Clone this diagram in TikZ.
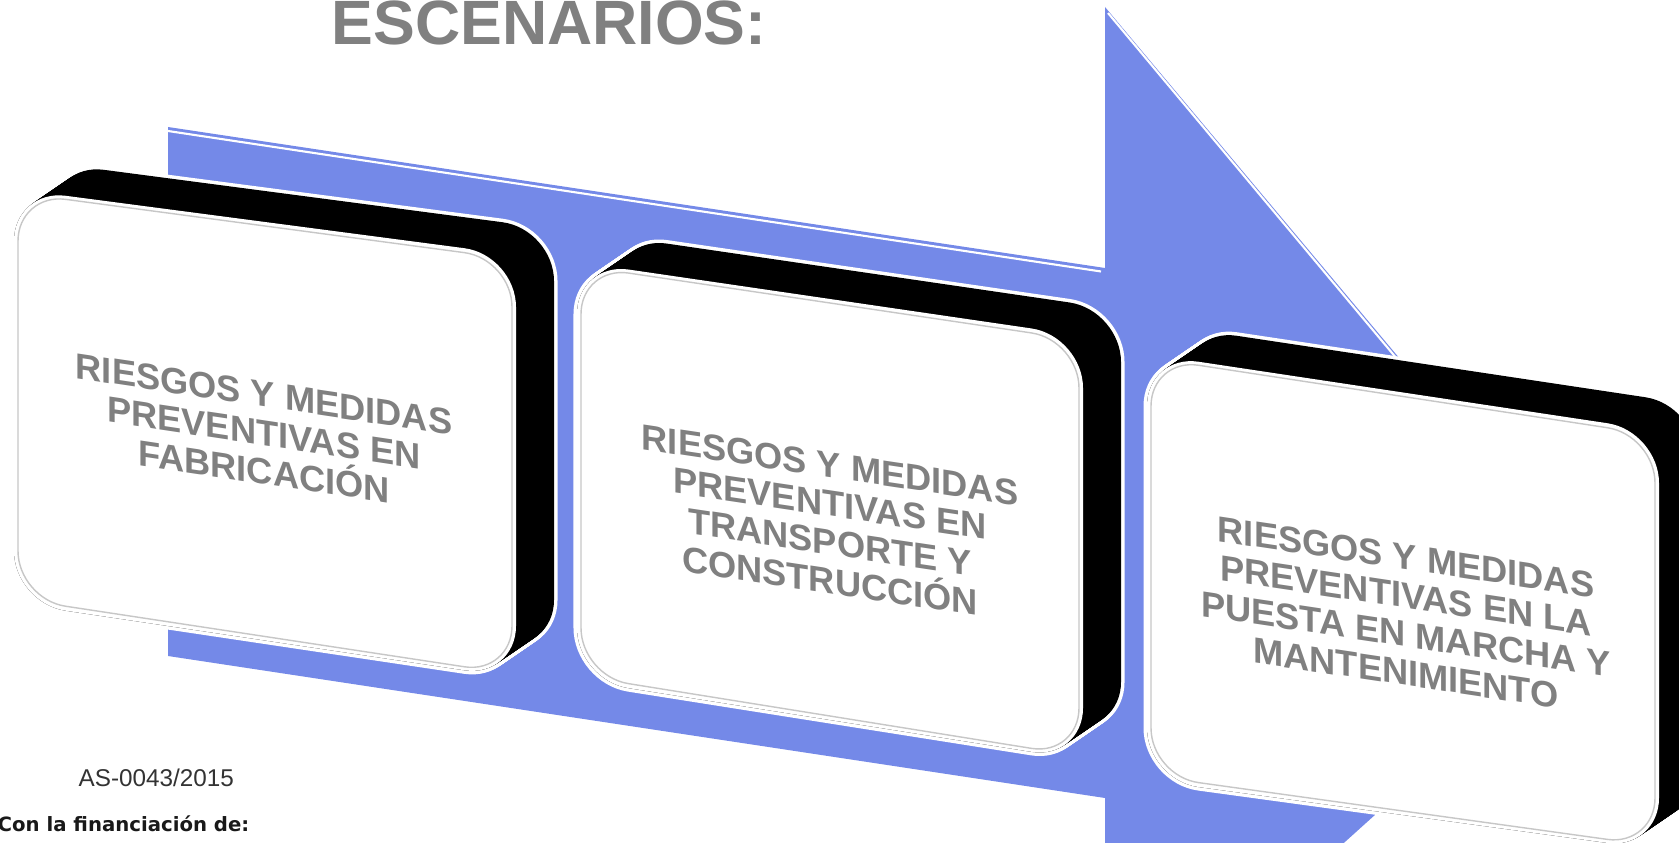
\documentclass[tikz,border=0pt]{standalone}
\usepackage{fontspec}
\setmainfont{Liberation Sans}
\newfontfamily\notefont{DejaVu Sans}
\usetikzlibrary{calc}
\definecolor{arrowblue}{RGB}{116,137,232}
\definecolor{labelgray}{RGB}{128,128,128}
\def\slab(#1)(#2)(#3)(#4){%
	\foreach \k in {0,...,38}
		\draw[white, line width=2pt, rounded corners=0.52cm, shift={(\k,-0.684*\k)}] (#1) -- (#2) -- (#3) -- (#4) -- cycle;
	\foreach \k in {0,...,38}
		\fill[black, rounded corners=0.52cm, shift={(\k,-0.684*\k)}] (#1) -- (#2) -- (#3) -- (#4) -- cycle;
	\fill[white, rounded corners=0.52cm] (#1) -- (#2) -- (#3) -- (#4) -- cycle;
	\draw[black!22, line width=0.4pt, rounded corners=0.48cm] ($(#1)+(4,4)$) -- ($(#2)+(-4,4)$) -- ($(#3)+(-4,-4)$) -- ($(#4)+(4,-4)$) -- cycle;
}
\tikzset{
	boxlabel/.style={font=\fontsize{10.3}{11}\selectfont\bfseries, text=labelgray, align=center, yslant=-0.15, inner sep=0pt},
	bevel/.style={white, line width=0.6pt}
}

\begin{document}
\begin{tikzpicture}[x=0.01cm, y=-0.01cm]
		%%%%% START %%%%%
		\useasboundingbox (0,0) rectangle (1679,843);
		\clip (0,0) rectangle (1679,843);
		
		% arrow
		\fill[arrowblue] (168,127) -- (1105,268) -- (1105,7) -- (1607,606) -- (1105,1058) -- (1105,798) -- (168,656) -- cycle;
		\draw[bevel] (168,131) -- (1101,271.5);
		\draw[bevel] (1108,13) -- (1580,578);
		
		% boxes
		\slab(14,189)(516,255)(516,678)(14,603)
		\slab(577,262)(1083,336)(1083,760)(577,680)
		\slab(1147,354)(1659,431)(1659,850)(1147,780)
		
		\node (fab) [boxlabel] at (264,433) {RIESGOS Y MEDIDAS\\PREVENTIVAS EN\\FABRICACIÓN};
		\node (trans) [boxlabel] at (830,523) {RIESGOS Y MEDIDAS\\PREVENTIVAS EN\\TRANSPORTE Y\\CONSTRUCCIÓN};
		\node (mant) [boxlabel] at (1406,615) {RIESGOS Y MEDIDAS\\PREVENTIVAS EN LA\\PUESTA EN MARCHA Y\\MANTENIMIENTO};
		
		\node (title) [anchor=base west, inner sep=0pt, font=\fontsize{17.8}{20}\selectfont\bfseries, text=labelgray] at (331,45) {ESCENARIOS:};
		
		\node (expte) [anchor=base west, inner sep=0pt, font=\fontsize{6.9}{8}\selectfont, text=black!80] at (78,786) {AS-0043/2015};
		\node (funding) [anchor=base west, inner sep=0pt, font=\notefont\bfseries\fontsize{5.6}{7}\selectfont, text=black!90] at (-3,831) {Con la financiación de:};
		%%%%% END %%%%%
\end{tikzpicture}
\end{document}
